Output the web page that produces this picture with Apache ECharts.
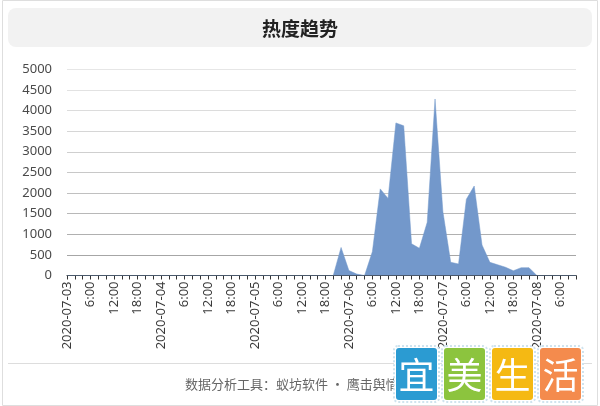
<!DOCTYPE html>
<html><head><meta charset="utf-8">
<script src="https://cdn.jsdelivr.net/npm/echarts@6/dist/echarts.min.js"></script>
<style>html,body{margin:0;padding:0;background:#fff}#c{width:600px;height:406px}</style>
</head><body><div id="c"></div>
<script>
// Time categories: every 2 hours from 2020-07-03 00:00 to 2020-07-08 10:00
const days = ['2020-07-03','2020-07-04','2020-07-05','2020-07-06','2020-07-07','2020-07-08'];
const hours = ['0:00','2:00','4:00','6:00','8:00','10:00','12:00','14:00','16:00','18:00','20:00','22:00'];
const lastDayHours = ['0:00','2:00','4:00','6:00','8:00','10:00'];
const categories = [];
days.forEach((d, di) => {
  (di === days.length - 1 ? lastDayHours : hours).forEach(h => categories.push(d + ' ' + h));
});

// Heat values
const heatValues = [
  0,0,0,0,0,0,0,0,0,0,0,0,            // 07-03
  0,0,0,0,0,0,0,0,0,0,0,0,            // 07-04
  0,0,0,0,0,0,0,0,0,0,0,680,          // 07-05
  120,35,0,580,2100,1870,3700,3630,770,660,1290,4280,   // 07-06
  1550,320,280,1850,2170,740,320,260,200,115,190,190,   // 07-07
  0,0,0,0,0,0                          // 07-08
];

const yTicks = [0,500,1000,1500,2000,2500,3000,3500,4000,4500,5000];
const titleText = '热度趋势';
const footerText = '数据分析工具：蚁坊软件 • 鹰击舆情系统';
const logoChars = ['宜','美','生','活'];
const logoColors = ['#2b9bd2','#8cc43e','#f5b913','#f48b4d'];

const chart = echarts.init(document.getElementById('c'), null, {renderer:'canvas'});

const logoGraphics = [];
logoChars.forEach((ch, i) => {
  const x = 396 + i * 48, y = 348, w = 41, h = 52;
  logoGraphics.push({
    type:'rect', z:100, shape:{x:x-2, y:y-2, width:w+4, height:h+4, r:4},
    style:{fill:'#fff', stroke:'#cfe3ee', lineWidth:2, lineDash:[2,2]}
  });
  logoGraphics.push({
    type:'rect', z:101, shape:{x:x, y:y, width:w, height:h, r:3},
    style:{fill:logoColors[i]}
  });
  logoGraphics.push({
    type:'text', z:102, x:x + w/2, y:y + h/2 + 1,
    style:{text:ch, fill:'#fff', font:'36px "Noto Sans CJK SC"', align:'center', verticalAlign:'middle'}
  });
});

const splitColors = ['#999','#a6a6a6','#b0b0b0','#b8b8b8','#c0c0c0','#c8c8c8','#cfcfcf','#d6d6d6','#dcdcdc','#e2e2e2','#e6e6e6'];

chart.setOption({
  animation:false,
  backgroundColor:'#fff',
  grid:{left:67, right:24, top:69.3, bottom:130.5, outerBoundsMode:'none', containLabel:false},
  xAxis:{
    type:'category', boundaryGap:false, data:categories,
    axisLine:{show:true, lineStyle:{color:'#333', width:1}},
    axisTick:{show:true, interval:0, length:4, lineStyle:{color:'#333'}},
    axisLabel:{
      interval:2, rotate:90, fontSize:13, color:'#3a3a3a', margin:6,
      padding:[5,0,0,0],
      fontFamily:'"Noto Sans", sans-serif',
      formatter:function(v){ const p=v.split(' '); return p[1]==='0:00' ? p[0] : p[1]; }
    },
    splitLine:{show:false}
  },
  yAxis:{
    type:'value', min:0, max:5000, interval:500,
    axisLine:{show:false}, axisTick:{show:false},
    axisLabel:{fontSize:13, color:'#4a4a4a', margin:15, fontFamily:'"Noto Sans", sans-serif',
      formatter:function(v){ return String(v); }},
    splitLine:{show:true, lineStyle:{color:splitColors, width:1}}
  },
  series:[{
    type:'line', data:heatValues, symbol:'none', smooth:false,
    lineStyle:{width:0.5, color:'#7398cb'},
    areaStyle:{color:'#7398cb', opacity:1}
  }],
  graphic:[
    {type:'rect', z:0, shape:{x:2.5, y:0.5, width:595, height:405}, style:{fill:'none', stroke:'#dedede'}},
    {type:'rect', z:1, shape:{x:8, y:8, width:584, height:39, r:8}, style:{fill:'#f2f2f2'}},
    {type:'text', z:2, x:300, y:29, style:{text:titleText, fill:'#222', font:'bold 19px "Noto Sans CJK SC"', align:'center', verticalAlign:'middle'}},
    {type:'line', z:1, shape:{x1:8, y1:363.5, x2:592, y2:363.5}, style:{stroke:'#dddddd', lineWidth:1}},
    {type:'text', z:2, x:185, y:384, style:{text:footerText, fill:'#666', font:'13px "Noto Sans CJK SC"', align:'left', verticalAlign:'middle'}}
  ].concat(logoGraphics)
});
</script>
</body></html>
